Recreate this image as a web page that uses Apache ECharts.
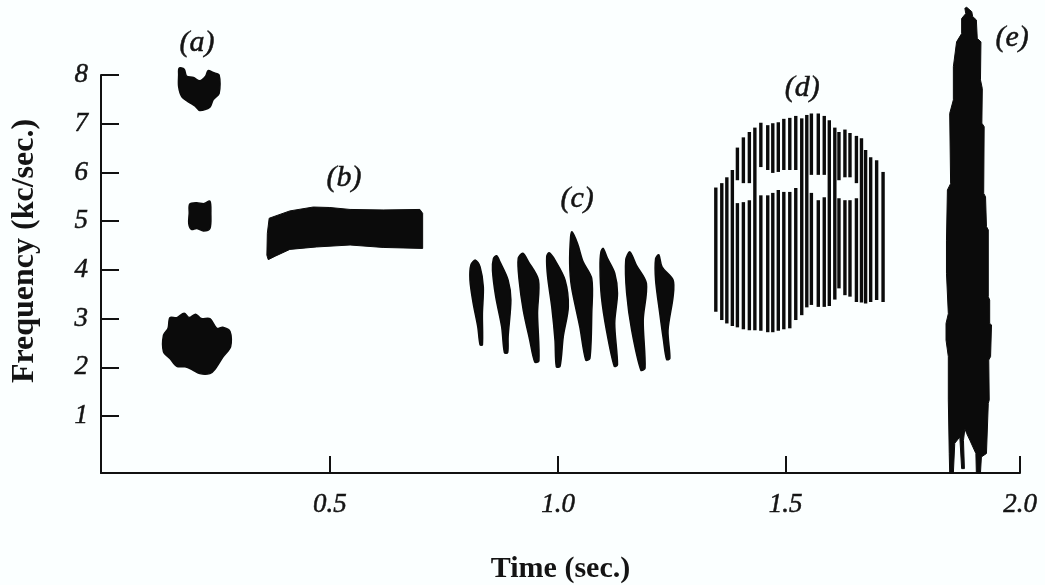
<!DOCTYPE html>
<html>
<head>
<meta charset="utf-8">
<title>Spectrogram</title>
<script src="https://cdn.jsdelivr.net/npm/echarts@6/dist/echarts.min.js"></script>
<style>
  html, body { margin: 0; padding: 0; background: #fbffff; }
  #chart { width: 1045px; height: 585px; }
</style>
</head>
<body>
<div id="chart"></div>
<script>
// tick values as printed, the original figure's time ticks are slightly uneven
const timeTicks = [0.498, 0.995, 1.49, 2];
const freqTicks = [1, 2, 3, 4, 5, 6, 7, 8];

// panel letters: [time, freq, text]
const panelLabels = [
  [0.209, 8.66, "(a)"],
  [0.529, 5.88, "(b)"],
  [1.036, 5.45, "(c)"],
  [1.526, 7.73, "(d)"],
  [1.983, 8.76, "(e)"]
];

// (a) three blobs, outlines as [time, freq]
const callA1 = [[0.170,8.14],[0.181,8.12],[0.186,7.98],[0.201,7.95],[0.215,7.88],[0.228,7.98],[0.233,8.09],[0.244,8.05],[0.257,8.00],[0.257,7.62],[0.244,7.49],[0.237,7.34],[0.215,7.27],[0.205,7.36],[0.190,7.45],[0.176,7.55],[0.169,7.76],[0.169,8.00]];
const callA2 = [[0.193,5.35],[0.208,5.38],[0.224,5.36],[0.237,5.41],[0.239,5.16],[0.237,4.85],[0.223,4.80],[0.208,4.85],[0.197,4.83],[0.191,4.95],[0.192,5.16]];
const callA3 = [[0.150,3.02],[0.165,3.02],[0.181,3.11],[0.192,3.02],[0.206,3.09],[0.218,3.00],[0.237,3.00],[0.252,2.80],[0.265,2.82],[0.281,2.73],[0.282,2.42],[0.266,2.22],[0.248,1.96],[0.237,1.87],[0.215,1.87],[0.197,1.96],[0.183,2.01],[0.165,2.02],[0.150,2.18],[0.136,2.32],[0.136,2.66],[0.146,2.80]];

// (b) band
const callB = [[0.366,5.06],[0.411,5.21],[0.462,5.29],[0.498,5.28],[0.542,5.24],[0.614,5.23],[0.694,5.24],[0.700,5.16],[0.700,4.44],[0.614,4.46],[0.542,4.51],[0.469,4.47],[0.411,4.42],[0.379,4.28],[0.364,4.21],[0.361,4.30],[0.362,4.75]];

// (c) eight notes
const callC1 = [[0.815,4.20],[0.825,4.06],[0.832,3.65],[0.830,3.10],[0.830,2.46],[0.825,2.46],[0.820,2.83],[0.810,3.31],[0.803,3.79],[0.805,4.10]];
const callC2 = [[0.861,4.29],[0.868,4.17],[0.886,3.79],[0.892,3.38],[0.886,2.63],[0.885,2.30],[0.878,2.30],[0.872,2.83],[0.859,3.45],[0.852,3.99],[0.854,4.23]];
const callC3 = [[0.918,4.34],[0.930,4.17],[0.952,3.79],[0.950,3.11],[0.953,2.13],[0.944,2.11],[0.933,2.56],[0.919,3.17],[0.910,3.79],[0.908,4.23]];
const callC4 = [[0.975,4.35],[0.988,4.20],[1.010,3.79],[1.017,3.24],[1.006,2.63],[0.999,2.02],[0.991,2.01],[0.988,2.56],[0.981,3.24],[0.972,3.86],[0.970,4.27]];
const callC5 = [[1.025,4.78],[1.037,4.54],[1.049,4.17],[1.068,3.82],[1.068,3.11],[1.064,2.18],[1.055,2.15],[1.042,2.83],[1.024,3.65],[1.020,4.13],[1.022,4.68]];
const callC6 = [[1.093,4.44],[1.102,4.24],[1.118,3.93],[1.124,3.52],[1.118,2.90],[1.124,2.05],[1.117,2.02],[1.100,2.76],[1.089,3.45],[1.086,4.06],[1.088,4.37]];
const callC7 = [[1.151,4.37],[1.165,4.10],[1.187,3.72],[1.180,2.97],[1.184,1.98],[1.175,1.94],[1.155,2.76],[1.144,3.52],[1.142,4.20]];
const callC8 = [[1.214,4.31],[1.221,4.06],[1.245,3.79],[1.245,3.45],[1.234,2.76],[1.238,2.18],[1.231,2.16],[1.224,2.56],[1.216,3.11],[1.207,3.79],[1.207,4.23]];

// (d) striations, one entry per vertical stroke
const dTime = [1.338,1.351,1.362,1.374,1.385,1.398,1.411,1.423,1.436,1.451,1.462,1.474,1.486,1.499,1.512,1.525,1.536,1.546,1.561,1.574,1.585,1.597,1.606,1.619,1.630,1.644,1.655,1.664,1.675,1.688,1.702];
const dLow  = [3.14,2.97,2.90,2.85,2.82,2.78,2.76,2.76,2.75,2.72,2.72,2.75,2.78,2.80,2.97,3.07,3.23,3.28,3.24,3.24,3.26,3.39,3.62,3.48,3.45,3.34,3.33,3.31,3.34,3.38,3.34];
const dHigh = [5.69,5.78,5.90,6.05,6.51,6.72,6.83,6.92,7.02,6.97,7.01,7.03,7.10,7.12,7.16,7.11,7.18,7.21,7.21,7.16,7.07,6.92,6.83,6.88,6.81,6.75,6.70,6.46,6.31,6.25,6.01];
// white holes in (d), null where the stroke runs through
const dGapLow  = [null,null,null,null,5.37,5.39,5.43,null,5.53,5.53,5.58,5.64,5.60,5.60,5.68,null,null,5.58,5.43,5.49,null,null,5.47,5.43,5.43,5.47,null,null,null,null,null];
const dGapHigh = [null,null,null,null,5.84,5.78,5.78,null,6.11,6.05,5.99,6.01,6.05,6.05,6.05,null,null,5.95,5.95,5.95,null,null,5.84,5.90,5.90,5.78,null,null,null,null,null];

// (e) click
const callE = [[1.884,9.39],[1.895,9.30],[1.897,9.20],[1.905,9.13],[1.907,8.75],[1.915,8.68],[1.914,7.90],[1.918,7.72],[1.917,7.01],[1.922,6.94],[1.921,5.57],[1.925,5.50],[1.927,4.89],[1.931,4.82],[1.931,3.45],[1.934,3.38],[1.934,2.90],[1.938,2.87],[1.936,2.22],[1.932,2.15],[1.933,1.33],[1.931,1.26],[1.927,0.23],[1.916,0.16],[1.914,-0.17],[1.905,-0.17],[1.904,0.23],[1.891,0.50],[1.884,0.64],[1.880,0.74],[1.877,0.50],[1.879,-0.08],[1.873,-0.08],[1.869,0.57],[1.858,0.44],[1.855,-0.17],[1.847,-0.17],[1.846,0.23],[1.844,1.33],[1.844,2.22],[1.839,2.56],[1.839,2.90],[1.844,3.10],[1.840,3.93],[1.840,4.61],[1.842,5.64],[1.849,5.77],[1.847,7.21],[1.855,7.49],[1.855,8.17],[1.862,8.68],[1.873,8.85],[1.873,9.16],[1.882,9.26],[1.880,9.37]];

const softBlobs = [callA1, callA2, callA3, callC1, callC2, callC3, callC4, callC5, callC6, callC7, callC8];
const hardBlobs = [callB, callE];

const ink = "#0b0b0b";
const textInk = "#141414";
const serif = "'Liberation Serif', serif";

// normal italic with a thin outline sits closer to the printed weight than bold italic
const italicText = {
  fontFamily: serif,
  fontStyle: "italic",
  color: textInk,
  textBorderColor: textInk,
  textBorderWidth: 0.5
};

const myChart = echarts.init(document.getElementById("chart"));

myChart.setOption({
  animation: false,
  backgroundColor: "#fbffff",
  grid: { left: 101, right: 25, top: 75, bottom: 112, outerBoundsMode: "none" },
  xAxis: {
    type: "value",
    min: 0,
    max: 2,
    name: "Time (sec.)",
    nameLocation: "middle",
    nameGap: 81,
    nameTextStyle: { fontFamily: serif, fontSize: 30, fontWeight: "bold", color: textInk },
    axisLine: { onZero: false, lineStyle: { color: "#111", width: 2 } },
    axisTick: { inside: true, length: 17, customValues: timeTicks, lineStyle: { color: "#111", width: 2 } },
    axisLabel: {
      ...italicText,
      customValues: timeTicks,
      margin: 18,
      fontSize: 27,
      formatter: v => v.toFixed(1)
    },
    splitLine: { show: false }
  },
  yAxis: {
    type: "value",
    min: -0.17,
    max: 8,
    name: "Frequency (kc/sec.)",
    nameLocation: "middle",
    nameGap: 60,
    nameTextStyle: { fontFamily: serif, fontSize: 32, fontWeight: "bold", color: textInk, padding: [0, 0, 0, 46] },
    axisLine: { onZero: false, lineStyle: { color: "#111", width: 2 } },
    axisTick: { inside: true, length: 18, customValues: freqTicks, lineStyle: { color: "#111", width: 2 } },
    axisLabel: {
      ...italicText,
      customValues: freqTicks,
      margin: 13,
      fontSize: 27,
      padding: [4, 0, 0, 0]
    },
    splitLine: { show: false }
  },
  series: [
    {
      // rounded shapes
      type: "custom",
      clip: false,
      data: softBlobs.map((b, i) => [i]),
      renderItem(params, api) {
        const pts = softBlobs[api.value(0)].map(p => api.coord(p));
        return {
          type: "polygon",
          shape: { points: pts, smooth: 0.3 },
          style: { fill: ink, stroke: ink, lineWidth: 1.5, lineJoin: "round" }
        };
      }
    },
    {
      // (b) and (e) keep their hard edges
      type: "custom",
      clip: false,
      data: hardBlobs.map((b, i) => [i]),
      renderItem(params, api) {
        const pts = hardBlobs[api.value(0)].map(p => api.coord(p));
        return {
          type: "polygon",
          shape: { points: pts },
          style: { fill: ink, stroke: ink, lineWidth: 1, lineJoin: "round" }
        };
      }
    },
    {
      // striations of (d)
      type: "custom",
      clip: false,
      data: dTime.map((t, i) => [t, dLow[i], dHigh[i], dGapLow[i], dGapHigh[i]]),
      renderItem(params, api) {
        const t = api.value(0);
        const spans = isNaN(api.value(3))
          ? [[api.value(1), api.value(2)]]
          : [[api.value(1), api.value(3)], [api.value(4), api.value(2)]];
        return {
          type: "group",
          children: spans.map(s => {
            const a = api.coord([t, s[0]]);
            const b = api.coord([t, s[1]]);
            return {
              type: "line",
              shape: { x1: a[0], y1: a[1], x2: b[0], y2: b[1] },
              style: { stroke: ink, lineWidth: 3.4 }
            };
          })
        };
      }
    },
    {
      // panel letters
      type: "scatter",
      clip: false,
      symbolSize: 1,
      itemStyle: { color: "transparent", opacity: 1 },
      data: panelLabels,
      label: {
        ...italicText,
        show: true,
        position: "inside",
        fontSize: 30,
        formatter: p => p.value[2]
      }
    }
  ]
});
</script>
</body>
</html>
